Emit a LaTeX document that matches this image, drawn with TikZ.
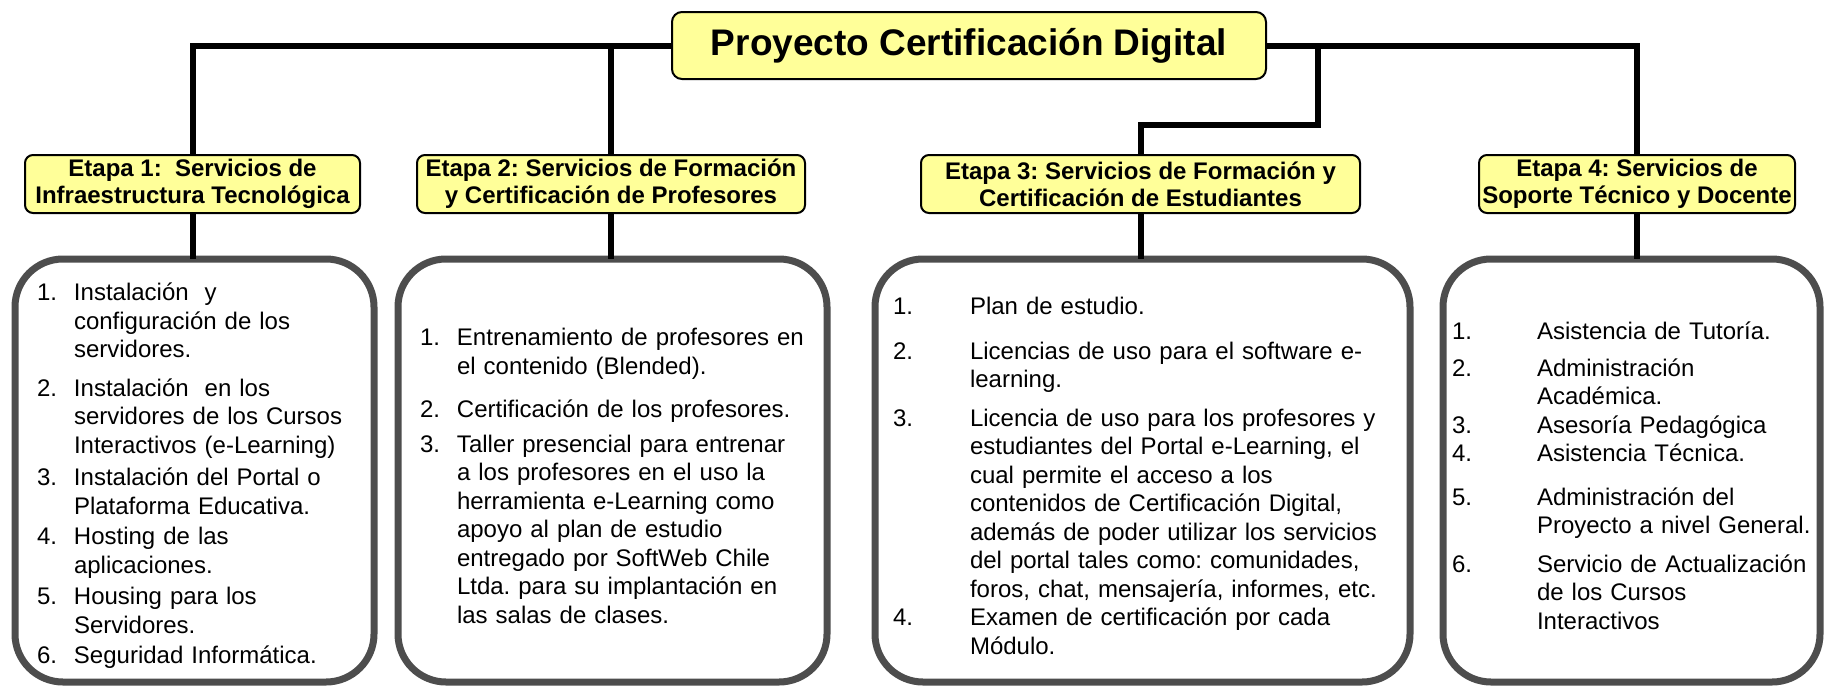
\documentclass[tikz,border=0pt]{standalone}
\usepackage{fontspec}
\setmainfont{Liberation Sans}
\usetikzlibrary{calc}

\definecolor{amarillo}{HTML}{FFFF99}
\definecolor{grisborde}{HTML}{4D4D4D}

\frenchspacing
\newlength{\sangria}
\newcommand{\punto}[3][0pt]{\par\vspace{#1}\hangindent=\sangria\hangafter=1\noindent\makebox[\sangria][l]{#2}#3\par}

\tikzset{
  titulo/.style={draw, line width=2pt, fill=amarillo, rounded corners=10pt, minimum width=594pt, minimum height=67pt, font=\bfseries\fontsize{37}{40}\selectfont},
  etapa/.style={draw, line width=2pt, fill=amarillo, rounded corners=8pt, minimum height=58pt, inner xsep=2pt, inner ysep=0pt, align=center, font=\bfseries\fontsize{24}{27}\selectfont},
  caja/.style={draw=grisborde, line width=7pt, rounded corners=48pt, minimum height=423pt, outer sep=0pt, anchor=north west, align=left, font=\fontsize{24}{28.5}\selectfont},
  bus/.style={line width=6pt}
}

\begin{document}
\begin{tikzpicture}[x=1pt,y=-1pt]
\useasboundingbox (0,0) rectangle (1826,689);
\draw node [titulo] (T) at (969,45.5) {Proyecto Certificación Digital};
\draw node [etapa, minimum width=335pt] (E1) at (192.5,184) {Etapa 1:~ Servicios de\\Infraestructura Tecnológica};
\draw node [etapa, minimum width=388pt] (E2) at (611,184) {Etapa 2: Servicios de Formación\\y Certificación de Profesores};
\draw node [etapa, minimum width=439pt] (E3) at (1140.5,184) {Etapa 3: Servicios de Formación y\\Certificación de Estudiantes};
\draw node [etapa, minimum width=316pt] (E4) at (1637,184) {Etapa 4: Servicios de\\Soporte Técnico y Docente};
\draw node [caja, minimum width=359pt, inner xsep=22pt, text width=315pt] (C1) at (15,259) {\setlength{\sangria}{37pt}%
\punto{1.}{Instalación~ y\newline configuración de los\newline servidores.}
\punto[10pt]{2.}{Instalación~ en los\newline servidores de los Cursos\newline Interactivos (e-Learning)}
\punto[4pt]{3.}{Instalación del Portal o\newline Plataforma Educativa.}
\punto[2pt]{4.}{Hosting de las\newline aplicaciones.}
\punto[3pt]{5.}{Housing para los\newline Servidores.}
\punto[2pt]{6.}{Seguridad Informática.}};
\draw node [caja, minimum width=429pt, inner xsep=22pt, text width=385pt] (C2) at (398,259) {\setlength{\sangria}{37pt}%
\punto{1.}{Entrenamiento de profesores en\newline el contenido (Blended).}
\punto[15pt]{2.}{Certificación de los profesores.}
\punto[6pt]{3.}{Taller presencial para entrenar\newline a los profesores en el uso la\newline herramienta e-Learning como\newline apoyo al plan de estudio\newline entregado por SoftWeb Chile\newline Ltda. para su implantación en\newline las salas de clases.}};
\draw node [caja, minimum width=535pt, inner xsep=18pt, text width=499pt] (C3) at (875,259) {\setlength{\sangria}{77pt}%
\punto{1.}{Plan de estudio.}
\punto[16pt]{2.}{Licencias de uso para el software e-\newline learning.}
\punto[10pt]{3.}{Licencia de uso para los profesores y\newline estudiantes del Portal e-Learning, el\newline cual permite el acceso a los\newline contenidos de Certificación Digital,\newline además de poder utilizar los servicios\newline del portal tales como: comunidades,\newline foros, chat, mensajería, informes, etc.}
\punto{4.}{Examen de certificación por cada\newline Módulo.}};
\draw node [caja, minimum width=377pt, inner xsep=9pt, text width=359pt] (C4) at (1443,259) {\setlength{\sangria}{85pt}%
\punto{1.}{Asistencia de Tutoría.}
\punto[8pt]{2.}{Administración\newline Académica.}
\punto{3.}{Asesoría Pedagógica}
\punto{4.}{Asistencia Técnica.}
\punto[15pt]{5.}{Administración del\newline Proyecto a nivel General.}
\punto[10pt]{6.}{Servicio de Actualización\newline de los Cursos\newline Interactivos}};
\draw [bus] (T.west) -| (E1.north);
\draw [bus] (T.west) -| (E2.north);
\draw [bus] (T.east) -| (E4.north);
\draw [bus] (T.east) -| ($ (E3.north) + (177,-29) $) -| (E3.north);
\draw [bus] (E1.south) -- (E1.south |- C1.north);
\draw [bus] (E2.south) -- (E2.south |- C2.north);
\draw [bus] (E3.south) -- (E3.south |- C3.north);
\draw [bus] (E4.south) -- (E4.south |- C4.north);
\end{tikzpicture}
\end{document}
